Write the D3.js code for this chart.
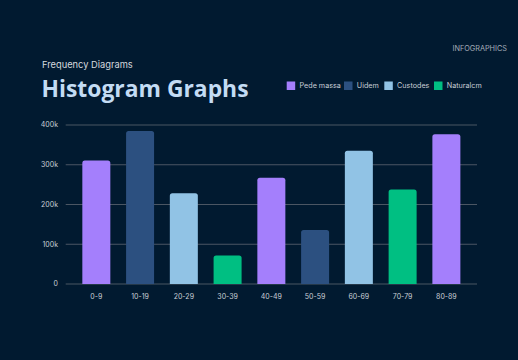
<!DOCTYPE html>
<html>
<head>
<meta charset="utf-8">
<script src="https://cdn.jsdelivr.net/npm/d3@7/dist/d3.min.js"></script>
<style>
html,body{margin:0;padding:0;background:#011a30;}
svg{display:block;}
</style>
</head>
<body>
<svg id="chart" width="518" height="360"></svg>
<script>
const categories = ["0-9","10-19","20-29","30-39","40-49","50-59","60-69","70-79","80-89"];
const values = [311000,385000,228000,72000,267000,136000,335000,238000,377000];
const barSeries = ["Pede massa","Uidem","Custodes","Naturalcm","Pede massa","Uidem","Custodes","Naturalcm","Pede massa"];
const seriesNames = ["Pede massa","Uidem","Custodes","Naturalcm"];
const seriesColors = ["#a47ffc","#2c5080","#91c3e5","#00bf82"];
const yTicks = [0,100000,200000,300000,400000];
const yTickLabels = ["0","100k","200k","300k","400k"];

const svg = d3.select("#chart");
const font = "'Inter', 'Liberation Sans', sans-serif";

svg.append("rect").attr("width",518).attr("height",360).attr("fill","#011a30");

const x = d3.scaleBand().domain(categories).range([65.7,477]).paddingInner(0.36).paddingOuter(0.38);
const y = d3.scaleLinear().domain([0,400000]).range([284,125]);
const color = d3.scaleOrdinal().domain(seriesNames).range(seriesColors);

// gridlines
svg.append("g").selectAll("line").data(yTicks).join("line")
  .attr("x1",65.7).attr("x2",477)
  .attr("y1",d=>y(d)).attr("y2",d=>y(d))
  .attr("stroke","#4b5663").attr("stroke-width",1.2);

// y labels
svg.append("g").selectAll("text").data(yTicks).join("text")
  .attr("x",58).attr("y",d=>y(d)).attr("dy","0.35em")
  .attr("text-anchor","end").attr("fill","#c9ced6")
  .attr("font-family",font).attr("font-size",7)
  .text((d,i)=>yTickLabels[i]);

// bars with rounded top
const r = 2.5;
svg.append("g").selectAll("path").data(categories).join("path")
  .attr("fill",(d,i)=>color(barSeries[i]))
  .attr("d",(d,i)=>{
    const x0 = x(d), w = x.bandwidth(), y0 = y(values[i]), yb = y(0);
    return `M${x0},${yb}V${y0+r}Q${x0},${y0} ${x0+r},${y0}H${x0+w-r}Q${x0+w},${y0} ${x0+w},${y0+r}V${yb}Z`;
  });

// x labels
svg.append("g").selectAll("text").data(categories).join("text")
  .attr("x",d=>x(d)+x.bandwidth()/2).attr("y",299)
  .attr("text-anchor","middle").attr("fill","#c9ced6")
  .attr("font-family",font).attr("font-size",7)
  .text(d=>d);

// titles
svg.append("text").attr("x",42).attr("y",68)
  .attr("fill","#d5d9df").attr("font-family",font).attr("font-size",9.3)
  .text("Frequency Diagrams");
svg.append("text").attr("x",41.5).attr("y",97)
  .attr("fill","#c3dcf4").attr("font-family","'Open Sans', 'Noto Sans', sans-serif").attr("font-weight",700).attr("font-size",22.5)
  .attr("textLength",207).attr("lengthAdjust","spacingAndGlyphs")
  .text("Histogram Graphs");
svg.append("text").attr("x",507).attr("y",50.5)
  .attr("text-anchor","end")
  .attr("fill","#a4adb8").attr("font-family",font).attr("font-size",7.3)
  .text("INFOGRAPHICS");

// legend
const legendX = [286.7,344,384.3,434];
const lg = svg.append("g").selectAll("g").data(seriesNames).join("g")
  .attr("transform",(d,i)=>`translate(${legendX[i]},81.5)`);
lg.append("rect").attr("width",8.5).attr("height",8.5).attr("fill",d=>color(d));
lg.append("text").attr("x",12.8).attr("y",4.4).attr("dy","0.35em")
  .attr("fill","#c9ced6").attr("font-family",font).attr("font-size",7.2)
  .text(d=>d);
</script>
</body>
</html>
